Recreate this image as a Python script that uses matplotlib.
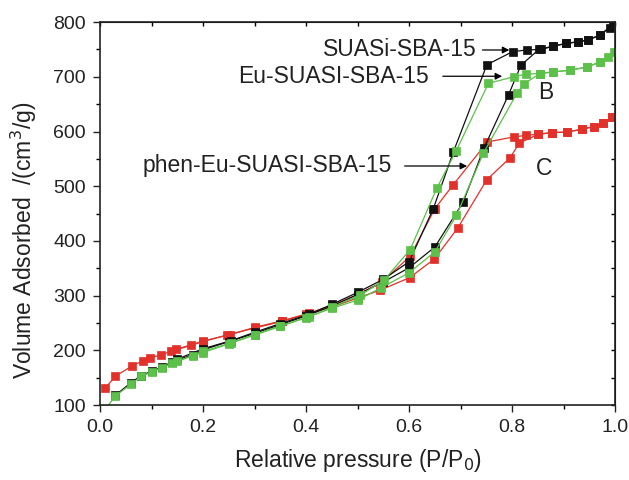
import matplotlib
matplotlib.use("Agg")
import matplotlib.pyplot as plt
from matplotlib.ticker import MultipleLocator

plt.rcParams['font.family'] = ['Liberation Sans', 'DejaVu Sans']

# SUASi-SBA-15 (black)
blk_ads_x = [0.03, 0.06, 0.08, 0.10, 0.12, 0.14, 0.18, 0.20, 0.25, 0.30, 0.35, 0.40, 0.45, 0.50, 0.55, 0.60, 0.65, 0.705, 0.745, 0.793, 0.817, 0.852, 0.88, 0.905, 0.928, 0.948, 0.97, 0.99]
blk_ads_y = [118, 141, 154, 162, 169, 179, 192, 201, 216, 231, 247, 263, 281, 302, 325, 351, 389, 471, 569, 667, 721, 750, 756, 761, 764, 767, 776, 790]
blk_des_x = [0.995, 0.97, 0.948, 0.928, 0.905, 0.879, 0.857, 0.828, 0.801, 0.751, 0.686, 0.647, 0.60, 0.55, 0.50, 0.45, 0.405, 0.35, 0.30, 0.255, 0.20, 0.15]
blk_des_y = [795, 776, 768, 764, 761, 756, 750, 749, 746, 722, 563, 459, 362, 330, 306, 284, 266, 249, 233, 218, 203, 184]

# Eu-SUASI-SBA-15 (green)
grn_ads_x = [0.01, 0.03, 0.06, 0.08, 0.10, 0.12, 0.14, 0.18, 0.20, 0.25, 0.30, 0.35, 0.40, 0.45, 0.50, 0.545, 0.60, 0.65, 0.692, 0.744, 0.81, 0.823, 0.854, 0.88, 0.913, 0.945, 0.971, 0.987]
grn_ads_y = [92, 117, 138, 153, 160, 168, 177, 190, 196, 212, 228, 244, 260, 277, 292, 314, 342, 380, 447, 560, 671, 687, 706, 709, 712, 718, 727, 737]
grn_des_x = [0.997, 0.971, 0.945, 0.913, 0.88, 0.854, 0.827, 0.803, 0.754, 0.691, 0.654, 0.602, 0.551, 0.505, 0.45, 0.405, 0.35, 0.30, 0.255, 0.20, 0.15]
grn_des_y = [746, 727, 718, 712, 709, 706, 705, 700, 688, 564, 497, 384, 328, 301, 279, 261, 245, 229, 214, 198, 180]

# phen-Eu-SUASI-SBA-15 (red)
red_ads_x = [0.01, 0.03, 0.063, 0.083, 0.098, 0.118, 0.137, 0.176, 0.199, 0.246, 0.301, 0.353, 0.40, 0.45, 0.50, 0.544, 0.601, 0.649, 0.694, 0.751, 0.796, 0.814, 0.851, 0.877, 0.906, 0.935, 0.958, 0.977, 0.993]
red_ads_y = [131, 153, 172, 181, 186, 192, 198, 209, 216, 228, 241, 253, 266, 279, 296, 310, 333, 367, 423, 512, 552, 579, 595, 598, 599, 604, 609, 615, 627]
red_des_x = [0.993, 0.977, 0.958, 0.935, 0.906, 0.877, 0.851, 0.827, 0.803, 0.752, 0.685, 0.65, 0.602, 0.547, 0.50, 0.45, 0.406, 0.353, 0.30, 0.253, 0.20, 0.148]
red_des_y = [627, 615, 609, 604, 599, 598, 595, 593, 590, 581, 502, 459, 372, 325, 302, 282, 268, 254, 242, 229, 217, 202]

BLACK = '#111111'
GREEN = '#5cc04a'
RED = '#e2302a'

fig = plt.figure(figsize=(6.29, 4.80), dpi=100)
ax = fig.add_axes([0.159, 0.156, 0.819, 0.798])

series = [
    (red_ads_x, red_ads_y, red_des_x, red_des_y, RED),
    (blk_ads_x, blk_ads_y, blk_des_x, blk_des_y, BLACK),
    (grn_ads_x, grn_ads_y, grn_des_x, grn_des_y, GREEN),
]
for ax_x, ax_y, dx, dy, c in series:
    for xs, ys in ((ax_x, ax_y), (dx, dy)):
        ax.plot(xs, ys, '-', color=c, lw=0.9, marker='s', ms=6,
                mfc=c, mec=c, mew=0.5, clip_on=True)

ax.set_xlim(0.0, 1.0)
ax.set_ylim(100, 800)
ax.xaxis.set_minor_locator(MultipleLocator(0.1))
ax.yaxis.set_major_locator(MultipleLocator(100))
ax.yaxis.set_minor_locator(MultipleLocator(50))
ax.set_xticks([0.0, 0.2, 0.4, 0.6, 0.8, 1.0])
ax.set_xticklabels(['0.0', '0.2', '0.4', '0.6', '0.8', '1.0'])

ax.tick_params(axis='both', which='major', direction='out', length=5, width=1.0,
               labelsize=14, colors='#222222', pad=5)
ax.tick_params(axis='both', which='minor', direction='out', length=3, width=1.0)
for s in ax.spines.values():
    s.set_linewidth(1.2)
    s.set_color('#222222')

# inward ticks on top and right
secx = ax.secondary_xaxis('top')
secx.set_xticks([0.1 * i for i in range(11)])
secx.tick_params(direction='in', length=3, width=1.0, labeltop=False)
secy = ax.secondary_yaxis('right')
secy.set_yticks(list(range(100, 801, 50)))
secy.tick_params(direction='in', length=3, width=1.0, labelright=False)

ax.set_xlabel('Relative pressure (P/P$_0$)', fontsize=16.5, color='#222222', labelpad=8)
ax.set_ylabel('Volume Adsorbed  /(cm$^3$/g)', fontsize=16.5, color='#222222')
ax.yaxis.set_label_coords(-0.118, 0.43)

arrow = dict(arrowstyle='-|>', color='black', lw=0.9, mutation_scale=10)
fs = 16.5
ax.annotate('', xy=(0.80, 749), xytext=(0.737, 749), arrowprops=arrow)
ax.text(0.731, 749, 'SUASi-SBA-15', ha='right', va='center', fontsize=fs, color='#222222')
ax.annotate('', xy=(0.786, 701), xytext=(0.66, 701), arrowprops=arrow)
ax.text(0.638, 701, 'Eu-SUASI-SBA-15', ha='right', va='center', fontsize=fs, color='#222222')
ax.annotate('', xy=(0.718, 537), xytext=(0.586, 537), arrowprops=arrow)
ax.text(0.566, 537, 'phen-Eu-SUASI-SBA-15', ha='right', va='center', fontsize=fs, color='#222222')
ax.text(0.865, 672, 'B', ha='center', va='center', fontsize=fs, color='#222222')
ax.text(0.862, 533, 'C', ha='center', va='center', fontsize=fs, color='#222222')

fig.savefig('out.png', dpi=100)
